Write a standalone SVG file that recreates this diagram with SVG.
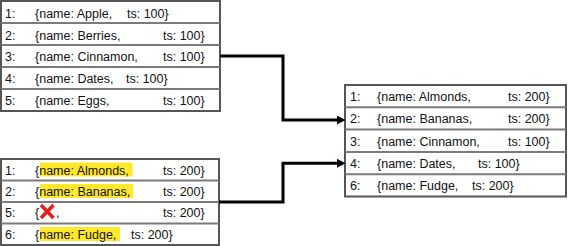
<svg xmlns="http://www.w3.org/2000/svg" width="568" height="246" viewBox="0 0 568 246">
  <defs>
    <style>
      text { font-family: "Liberation Sans", Arial, sans-serif; font-size: 12.5px; fill: #111; }
      .frame { fill: #fff; stroke: #555; stroke-width: 2; }
      .sep { stroke: #7a7a7a; stroke-width: 2; }
      .hl { fill: #ffe82a; }
      .wire { fill: none; stroke: #000; stroke-width: 3; }
      .cross { stroke: #e3201b; stroke-width: 3.6; stroke-linecap: butt; }
    </style>
    <marker id="head" markerUnits="userSpaceOnUse" markerWidth="10" markerHeight="10" refX="0" refY="4.5" orient="auto">
      <path d="M0,0 L8.5,4.5 L0,9 Z" fill="#000"/>
    </marker>
  </defs>

  <!-- first log: five records at ts 100 -->
  <g id="log-a">
    <rect class="frame" x="1" y="1" width="219" height="110"/>
    <line class="sep" x1="1" y1="23" x2="220" y2="23"/>
    <line class="sep" x1="1" y1="45" x2="220" y2="45"/>
    <line class="sep" x1="1" y1="67" x2="220" y2="67"/>
    <line class="sep" x1="1" y1="89" x2="220" y2="89"/>
    <text x="5" y="17.5">1:</text><text x="35" y="17.5">{name: Apple,</text><text x="127" y="17.5">ts: 100}</text>
    <text x="5" y="39.5">2:</text><text x="35" y="39.5">{name: Berries,</text><text x="163" y="39.5">ts: 100}</text>
    <text x="5" y="61">3:</text><text x="35" y="61">{name: Cinnamon,</text><text x="163" y="61">ts: 100}</text>
    <text x="5" y="83">4:</text><text x="35" y="83">{name: Dates,</text><text x="126" y="83">ts: 100}</text>
    <text x="5" y="105">5:</text><text x="35" y="105">{name: Eggs,</text><text x="163" y="105">ts: 100}</text>
  </g>

  <!-- second log: newer records at ts 200, one tombstone -->
  <g id="log-b">
    <rect class="frame" x="1" y="159" width="218" height="86"/>
    <line class="sep" x1="1" y1="180.5" x2="219" y2="180.5"/>
    <line class="sep" x1="1" y1="202" x2="219" y2="202"/>
    <line class="sep" x1="1" y1="223.5" x2="219" y2="223.5"/>
    <rect class="hl" x="40" y="162.5" width="92.5" height="14"/>
    <rect class="hl" x="40" y="184" width="93" height="14"/>
    <rect class="hl" x="40" y="227" width="80" height="14"/>
    <text x="5" y="174.5">1:</text><text x="35" y="174.5">{name: Almonds,</text><text x="163" y="174.5">ts: 200}</text>
    <text x="5" y="196">2:</text><text x="35" y="196">{name: Bananas,</text><text x="163" y="196">ts: 200}</text>
    <text x="5" y="217">5:</text><text x="35" y="217">{</text><text x="56" y="217">,</text><text x="163" y="217">ts: 200}</text>
    <line class="cross" x1="41" y1="205" x2="53.5" y2="218"/>
    <line class="cross" x1="53.5" y1="205" x2="41" y2="218"/>
    <text x="5" y="239">6:</text><text x="35" y="239">{name: Fudge,</text><text x="131" y="239">ts: 200}</text>
  </g>

  <!-- merged result -->
  <g id="merged">
    <rect class="frame" x="345" y="85" width="221" height="111.5"/>
    <line class="sep" x1="345" y1="107.3" x2="566" y2="107.3"/>
    <line class="sep" x1="345" y1="129.6" x2="566" y2="129.6"/>
    <line class="sep" x1="345" y1="151.9" x2="566" y2="151.9"/>
    <line class="sep" x1="345" y1="174.2" x2="566" y2="174.2"/>
    <text x="350" y="101">1:</text><text x="377" y="101">{name: Almonds,</text><text x="508" y="101">ts: 200}</text>
    <text x="350" y="123.3">2:</text><text x="377" y="123.3">{name: Bananas,</text><text x="508" y="123.3">ts: 200}</text>
    <text x="350" y="145.6">3:</text><text x="377" y="145.6">{name: Cinnamon,</text><text x="508" y="145.6">ts: 100}</text>
    <text x="350" y="167.9">4:</text><text x="377" y="167.9">{name: Dates,</text><text x="478" y="167.9">ts: 100}</text>
    <text x="350" y="190.2">6:</text><text x="377" y="190.2">{name: Fudge,</text><text x="472" y="190.2">ts: 200}</text>
  </g>

  <!-- elbow connectors into the merged table -->
  <g id="connectors">
    <path class="wire" d="M220,56 H283 V120 H337" marker-end="url(#head)"/>
    <path class="wire" d="M219,202 H283 V163.3 H337" marker-end="url(#head)"/>
  </g>
</svg>
